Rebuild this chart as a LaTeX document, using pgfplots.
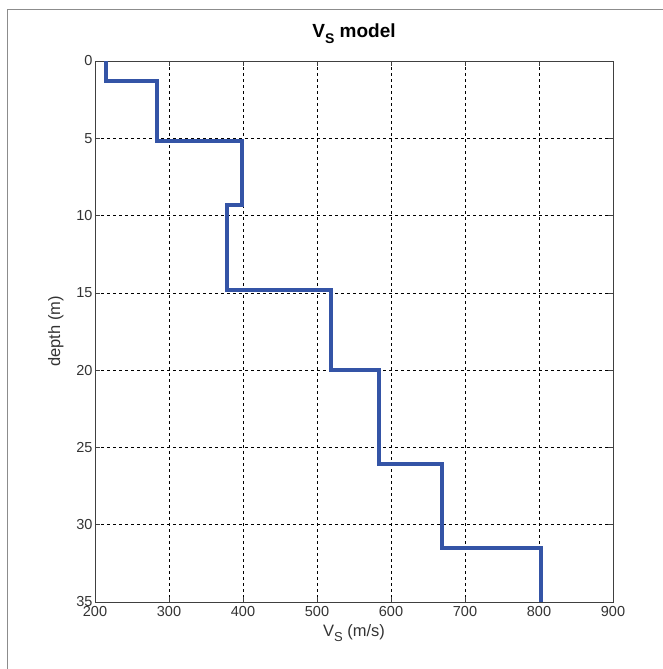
\documentclass[border=0pt]{standalone}
\usepackage{fontspec}
\setmainfont{Liberation Sans}
\usepackage{pgfplots}
\pgfplotsset{compat=1.18}
\definecolor{vsblue}{RGB}{52,84,166}
\begin{document}
\begin{tikzpicture}[x=1pt,y=1pt]
\useasboundingbox (-95,-67) rectangle (568,602);
\draw[gray!90,line width=1pt] (-87.5,-67) -- (-87.5,592) -- (568,592);
\begin{axis}[
  at={(0,0)},anchor=south west,
  scale only axis,
  width=518pt,height=541pt,
  xmin=200,xmax=900,
  ymin=0,ymax=35,
  y dir=reverse,
  xtick={200,300,...,900},
  ytick={0,5,...,35},
  tick align=inside,
  axis line style={black!75,line width=0.9pt},
  major tick length=5pt,
  tick style={black!75,line width=0.7pt},
  grid=major,
  major grid style={black,dashed,line width=0.6pt},
  tick label style={font=\fontsize{14.5}{16}\selectfont,text=black!80},
  /pgf/number format/assume math mode=true,
  xticklabel style={yshift=-1pt},
  yticklabel style={xshift=1pt},
  xlabel={V\raisebox{-0.55ex}{\fontsize{13}{14}\selectfont S} (m/s)},
  ylabel={depth (m)},
  label style={font=\fontsize{16.5}{18}\selectfont,text=black!80},
  xlabel style={yshift=-1pt},
  ylabel style={yshift=6pt},
  title={\bfseries V\raisebox{-0.6ex}{\fontsize{14}{15}\selectfont S} model},
  title style={font=\fontsize{19}{21}\selectfont,yshift=8pt},
]
\addplot[vsblue,line width=4pt,line join=miter] coordinates {
  (215,0) (215,1.3) (284,1.3) (284,5.2) (399,5.2) (399,9.3) (379,9.3) (379,14.8)
  (519,14.8) (519,20.0) (584,20.0) (584,26.1) (669,26.1) (669,31.5) (803,31.5) (803,35)
};
\end{axis}
\end{tikzpicture}
\end{document}
